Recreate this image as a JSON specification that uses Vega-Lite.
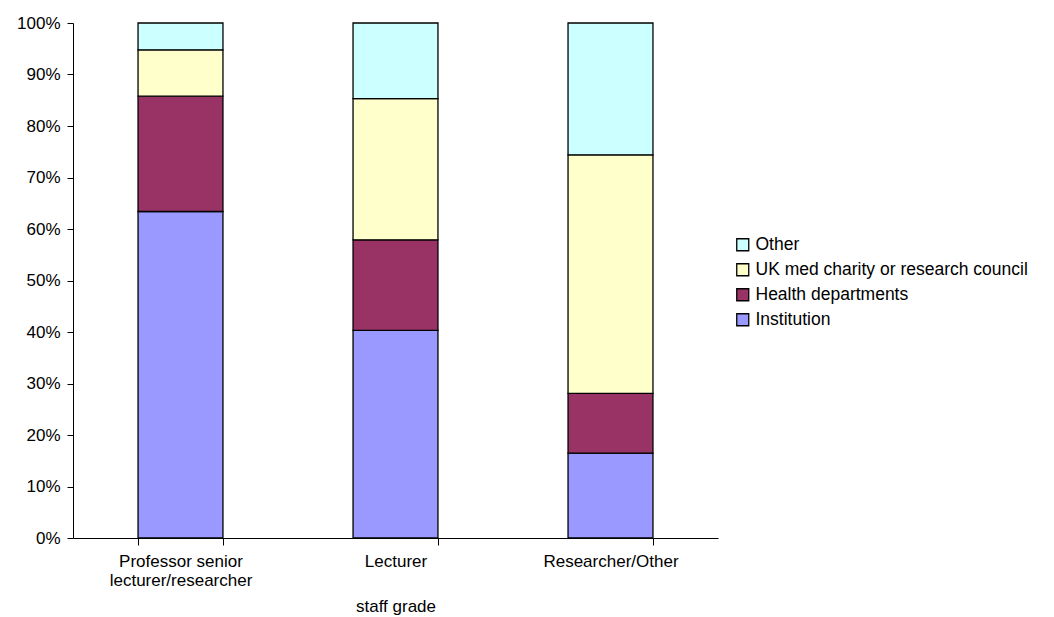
{
  "$schema": "https://vega.github.io/schema/vega-lite/v6.json",
  "width": 645,
  "height": 515,
  "autosize": {"type": "none"},
  "padding": {"left": 73, "top": 23, "right": 336, "bottom": 79},
  "background": "white",
  "config": {
    "view": {"stroke": null},
    "font": "Liberation Sans",
    "axis": {
      "labelFont": "Liberation Sans",
      "titleFont": "Liberation Sans",
      "labelColor": "black",
      "titleColor": "black",
      "domainColor": "black",
      "tickColor": "black",
      "domainWidth": 1,
      "tickWidth": 1,
      "grid": false
    }
  },
  "data": {
    "values": [
      {"grade": "Professor senior lecturer/researcher", "source": "Institution", "share": 63.4, "pos": 1},
      {"grade": "Professor senior lecturer/researcher", "source": "Health departments", "share": 22.4, "pos": 2},
      {"grade": "Professor senior lecturer/researcher", "source": "UK med charity or research council", "share": 9.0, "pos": 3},
      {"grade": "Professor senior lecturer/researcher", "source": "Other", "share": 5.2, "pos": 4},
      {"grade": "Lecturer", "source": "Institution", "share": 40.3, "pos": 1},
      {"grade": "Lecturer", "source": "Health departments", "share": 17.6, "pos": 2},
      {"grade": "Lecturer", "source": "UK med charity or research council", "share": 27.4, "pos": 3},
      {"grade": "Lecturer", "source": "Other", "share": 14.7, "pos": 4},
      {"grade": "Researcher/Other", "source": "Institution", "share": 16.5, "pos": 1},
      {"grade": "Researcher/Other", "source": "Health departments", "share": 11.6, "pos": 2},
      {"grade": "Researcher/Other", "source": "UK med charity or research council", "share": 46.3, "pos": 3},
      {"grade": "Researcher/Other", "source": "Other", "share": 25.6, "pos": 4}
    ]
  },
  "mark": {"type": "bar", "stroke": "black", "strokeWidth": 1.3},
  "encoding": {
    "x": {
      "field": "grade",
      "type": "nominal",
      "sort": ["Professor senior lecturer/researcher", "Lecturer", "Researcher/Other"],
      "scale": {"paddingInner": 0.605, "paddingOuter": 0.3025},
      "axis": {
        "title": "staff grade",
        "titleFontSize": 17,
        "titleFontWeight": "normal",
        "titlePadding": 10,
        "labelFontSize": 17,
        "labelAngle": 0,
        "labelPadding": 8,
        "labelLineHeight": 19,
        "tickBand": "extent",
        "tickSize": 7,
        "labelExpr": "datum.label == 'Professor senior lecturer/researcher' ? ['Professor senior', 'lecturer/researcher'] : datum.label"
      }
    },
    "y": {
      "field": "share",
      "type": "quantitative",
      "stack": "normalize",
      "scale": {"domain": [0, 1], "nice": false},
      "axis": {
        "title": null,
        "format": ".0%",
        "values": [0, 0.1, 0.2, 0.3, 0.4, 0.5, 0.6, 0.7, 0.8, 0.9, 1],
        "labelFontSize": 17,
        "labelPadding": 7,
        "tickSize": 6
      }
    },
    "order": {"field": "pos", "type": "quantitative"},
    "color": {
      "field": "source",
      "type": "nominal",
      "scale": {
        "domain": ["Other", "UK med charity or research council", "Health departments", "Institution"],
        "range": ["#CCFFFF", "#FFFFCC", "#993366", "#9999FF"]
      },
      "legend": {
        "title": null,
        "orient": "none",
        "legendX": 661,
        "legendY": 213,
        "symbolType": "square",
        "symbolSize": 144,
        "symbolStrokeColor": "black",
        "symbolStrokeWidth": 1.3,
        "symbolOpacity": 1,
        "labelFont": "Liberation Sans",
        "labelFontSize": 17.5,
        "labelColor": "black",
        "labelOffset": 4,
        "rowPadding": 6,
        "labelLimit": 400
      }
    }
  }
}
